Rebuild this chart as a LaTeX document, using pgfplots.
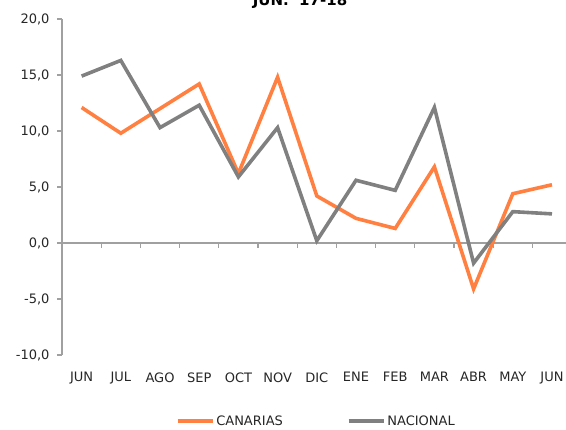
\documentclass[border=0pt]{standalone}
\usepackage{fontspec}
\setmainfont{DejaVu Sans}
\usepackage{pgfplots}
\pgfplotsset{compat=1.18}
\definecolor{canarias}{RGB}{255,128,64}
\definecolor{nacional}{RGB}{128,128,128}
\definecolor{axisgray}{RGB}{160,160,160}
\begin{document}
\begin{tikzpicture}
\begin{axis}[
  scale only axis,
  width=509.6bp, height=336bp,
  at={(62bp,75bp)}, anchor=south west,
  xmin=-0.5, xmax=12.5, ymin=-10, ymax=20,
  axis y line*=left,
  axis x line*=bottom,
  x axis line style={draw=none},
  y axis line style={axisgray, line width=1.3bp},
  xtick={0,1,2,3,4,5,6,7,8,9,10,11,12},
  xticklabels={JUN,JUL,AGO,SEP,OCT,NOV,DIC,ENE,FEB,MAR,ABR,MAY,JUN},
  xtick style={draw=none},
  ytick={-10,-5,0,5,10,15,20},
  yticklabels={{-10,0},{-5,0},{0,0},{5,0},{10,0},{15,0},{20,0}},
  ytick style={axisgray, line width=1.3bp},
  tick align=outside,
  major tick length=5bp,
  ticklabel style={font=\fontsize{13bp}{15bp}\selectfont, text=black!85},
  xticklabel style={yshift=-9bp},
  yticklabel style={xshift=-4bp},
  clip=false,
  legend columns=2,
  legend style={
    at={(0.499,-0.197)}, anchor=center, draw=none,
    font=\fontsize{13bp}{15bp}\selectfont, text=black!85,
    /tikz/every even column/.append style={column sep=62bp},
    inner sep=0pt
  },
  legend image code/.code={\draw[#1,line width=3.5bp] (0bp,0bp) -- (35bp,0bp);},
]
\draw[axisgray, line width=1.3bp] (axis cs:-0.5,0) -- (axis cs:12.5,0);
\pgfplotsinvokeforeach{0.5,1.5,2.5,3.5,4.5,5.5,6.5,7.5,8.5,9.5,10.5,11.5}{
  \draw[axisgray, line width=1.3bp] (axis cs:#1,0) -- ([yshift=-5bp]axis cs:#1,0);
}
\addplot[canarias, line width=3.6bp] coordinates {
 (0,12.1) (1,9.8) (2,12.0) (3,14.2) (4,6.2) (5,14.8) (6,4.2)
 (7,2.2) (8,1.3) (9,6.8) (10,-4.1) (11,4.4) (12,5.2)
};
\addlegendentry{CANARIAS}
\addplot[nacional, line width=3.6bp] coordinates {
 (0,14.9) (1,16.3) (2,10.3) (3,12.3) (4,5.9) (5,10.3) (6,0.2)
 (7,5.6) (8,4.7) (9,12.1) (10,-1.8) (11,2.8) (12,2.6)
};
\addlegendentry{NACIONAL}
\end{axis}
\node[anchor=base, font=\bfseries\fontsize{15bp}{17bp}\selectfont] at (300bp,424.6bp) {JUN.\ \ 17-18};
\pgfresetboundingbox
\path[use as bounding box] (0,0) rectangle (566bp,430bp);
\end{tikzpicture}
\end{document}
